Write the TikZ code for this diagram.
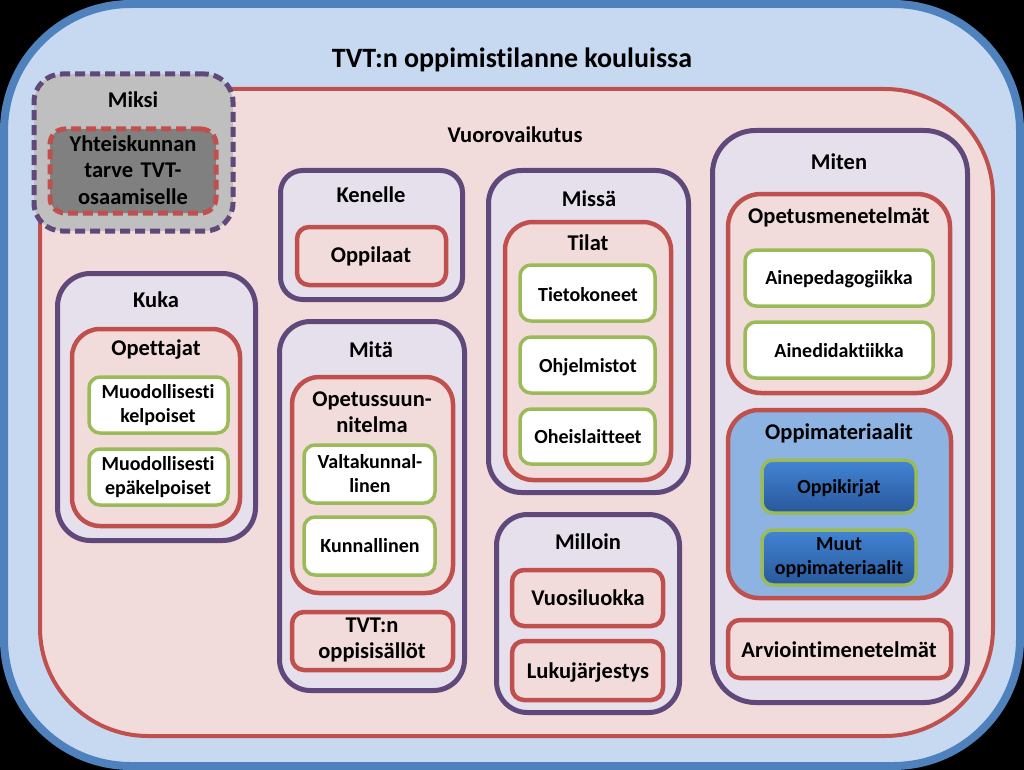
\documentclass[tikz,border=0pt]{standalone}
\usepackage{fontspec}
\setmainfont[Ligatures=NoCommon]{Carlito}
\definecolor{blueL}{RGB}{79,129,189}
\definecolor{blueF}{RGB}{198,217,241}
\definecolor{redL}{RGB}{192,80,77}
\definecolor{pinkF}{RGB}{242,220,219}
\definecolor{purL}{RGB}{95,73,122}
\definecolor{lavF}{RGB}{230,224,236}
\definecolor{grnL}{RGB}{155,187,89}
\definecolor{grayA}{RGB}{191,191,191}
\definecolor{grayB}{RGB}{128,128,128}
\definecolor{matF}{RGB}{141,179,226}
\definecolor{shTop}{RGB}{66,132,212}
\definecolor{shBot}{RGB}{40,88,155}
\newcommand{\fTitle}{\fontsize{28}{33}\selectfont\bfseries}
\newcommand{\fLbl}{\fontsize{22.5}{26.5}\selectfont\bfseries}
\newcommand{\fSm}{\fontsize{20}{24}\selectfont\bfseries}
\newcommand{\Bx}[7]{\node[#2, rounded corners=#7pt, minimum width={(#5-#3)*1pt}, minimum height={(#6-#4)*1pt}, inner sep=0pt] (#1) at ({(#3+#5)/2},{-(#4+#6)/2}) {};}
\begin{document}
\begin{tikzpicture}[x=1pt,y=1pt,
  outerbox/.style={draw=blueL, line width=8pt, fill=blueF},
  bigred/.style={draw=redL, line width=4pt, fill=pinkF},
  purbox/.style={draw=purL, line width=5pt, fill=lavF},
  redbox/.style={draw=redL, line width=4.5pt, fill=pinkF},
  matbox/.style={draw=redL, line width=4.5pt, fill=matF},
  grnbox/.style={draw=grnL, line width=3.5pt, fill=white},
  shbox/.style={draw=grnL, line width=3.5pt, top color=shTop, bottom color=shBot},
  miksibox/.style={draw=purL, line width=5pt, fill=grayA, dash pattern=on 10pt off 5pt},
  miksiin/.style={draw=redL, line width=5pt, fill=grayB, dash pattern=on 10pt off 5pt},
  ttl/.style={inner sep=0pt, align=center, font=\fTitle},
  lbl/.style={inner sep=0pt, align=center, font=\fLbl},
  sm/.style={inner sep=0pt, align=center, font=\fSm}]
\useasboundingbox (0,0) rectangle (1024,-770);
\fill[black] (0,0) rectangle (1024,-770);
% outer frames
\Bx{outer}{outerbox}{4}{4}{1020}{766}{127}
\Bx{vuoro}{bigred}{40}{89}{993}{736}{108}
\node[ttl] (title) at (512,-60) {TVT:n oppimistilanne kouluissa};
\node[lbl] (vuoroL) at (515,-135) {Vuorovaikutus};
% Miksi
\Bx{miksi}{miksibox}{34}{74}{233}{231}{28}
\node[lbl] (miksiL) at (133,-100) {Miksi};
\Bx{yht}{miksiin}{50}{129}{216}{213}{15}
\node[lbl, text width=160pt] (yhtT) at (133,-170) {Yhteiskunnan\\tarve TVT-\\osaamiselle};
% Kenelle
\Bx{kenelle}{purbox}{280.5}{170.5}{462.5}{299.5}{22}
\node[lbl] (kenelleL) at (371,-195) {Kenelle};
\Bx{oppilaat}{redbox}{297}{227}{446}{285}{12}
\node[lbl] (oppilaatT) at (371,-256) {Oppilaat};
% Kuka
\Bx{kuka}{purbox}{57.5}{273.5}{255.5}{540.5}{33}
\node[lbl] (kukaL) at (156,-300) {Kuka};
\Bx{opettajat}{redbox}{72}{329}{240}{526}{28}
\node[lbl] (opettajatL) at (156,-350) {Opettajat};
\Bx{kelp}{grnbox}{89}{377}{228}{433}{11}
\node[sm] (kelpT) at (158,-405) {Muodollisesti\\kelpoiset};
\Bx{epakelp}{grnbox}{89}{449}{228}{505}{11}
\node[sm] (epakelpT) at (158,-477) {Muodollisesti\\epäkelpoiset};
% Mita
\Bx{mita}{purbox}{279.5}{321.5}{464.5}{690.5}{31}
\node[lbl] (mitaL) at (371,-350) {Mitä};
\Bx{ops}{redbox}{292}{377}{453}{593}{27}
\node[lbl] (opsL) at (372,-412) {Opetussuun-\\nitelma};
\Bx{valt}{grnbox}{304}{445}{435}{503}{11}
\node[sm] (valtT) at (370,-474) {Valtakunnal-\\linen};
\Bx{kunn}{grnbox}{304}{517}{435}{575}{11}
\node[sm] (kunnT) at (370,-546) {Kunnallinen};
\Bx{sisallot}{redbox}{292}{612}{453}{670}{12}
\node[lbl] (sisallotT) at (372,-640) {TVT:n\\oppisisällöt};
% Missa
\Bx{missa}{purbox}{488.5}{170.5}{688.5}{492.5}{33}
\node[lbl] (missaL) at (589,-199) {Missä};
\Bx{tilat}{redbox}{505}{222}{671}{480}{28}
\node[lbl] (tilatL) at (588,-243) {Tilat};
\Bx{tieto}{grnbox}{520}{265}{655}{321}{11}
\node[sm] (tietoT) at (588,-295) {Tietokoneet};
\Bx{ohjel}{grnbox}{520}{337}{655}{393}{11}
\node[sm] (ohjelT) at (588,-367) {Ohjelmistot};
\Bx{oheis}{grnbox}{520}{409}{655}{464}{11}
\node[sm] (oheisT) at (588,-437) {Oheislaitteet};
% Milloin
\Bx{milloin}{purbox}{496.5}{514.5}{679.5}{712.5}{31}
\node[lbl] (milloinL) at (588,-542) {Milloin};
\Bx{vuosi}{redbox}{512}{570}{663}{626}{12}
\node[lbl] (vuosiT) at (588,-598) {Vuosiluokka};
\Bx{luku}{redbox}{512}{641}{663}{700}{12}
\node[lbl] (lukuT) at (588,-672) {Lukujärjestys};
% Miten
\Bx{miten}{purbox}{712.5}{130.5}{967.5}{702.5}{43}
\node[lbl] (mitenL) at (839,-162) {Miten};
\Bx{opmen}{redbox}{728}{194}{950}{393}{33}
\node[lbl] (opmenL) at (839,-217) {Opetusmenetelmät};
\Bx{peda}{grnbox}{745}{250}{933}{306}{11}
\node[sm] (pedaT) at (839,-279) {Ainepedagogiikka};
\Bx{dida}{grnbox}{745}{322}{933}{378}{11}
\node[sm] (didaT) at (839,-351) {Ainedidaktiikka};
\Bx{mat}{matbox}{728}{410}{951}{598}{31}
\node[lbl] (matL) at (839,-433) {Oppimateriaalit};
\Bx{kirjat}{shbox}{762}{460}{916}{513}{11}
\node[sm] (kirjatT) at (839,-488) {Oppikirjat};
\Bx{muut}{shbox}{762}{530}{916}{585}{11}
\node[sm] (muutT) at (839,-558) {Muut\\oppimateriaalit};
\Bx{arvio}{redbox}{728}{620}{951}{678}{12}
\node[lbl] (arvioT) at (839,-650) {Arviointimenetelmät};
\end{tikzpicture}
\end{document}
